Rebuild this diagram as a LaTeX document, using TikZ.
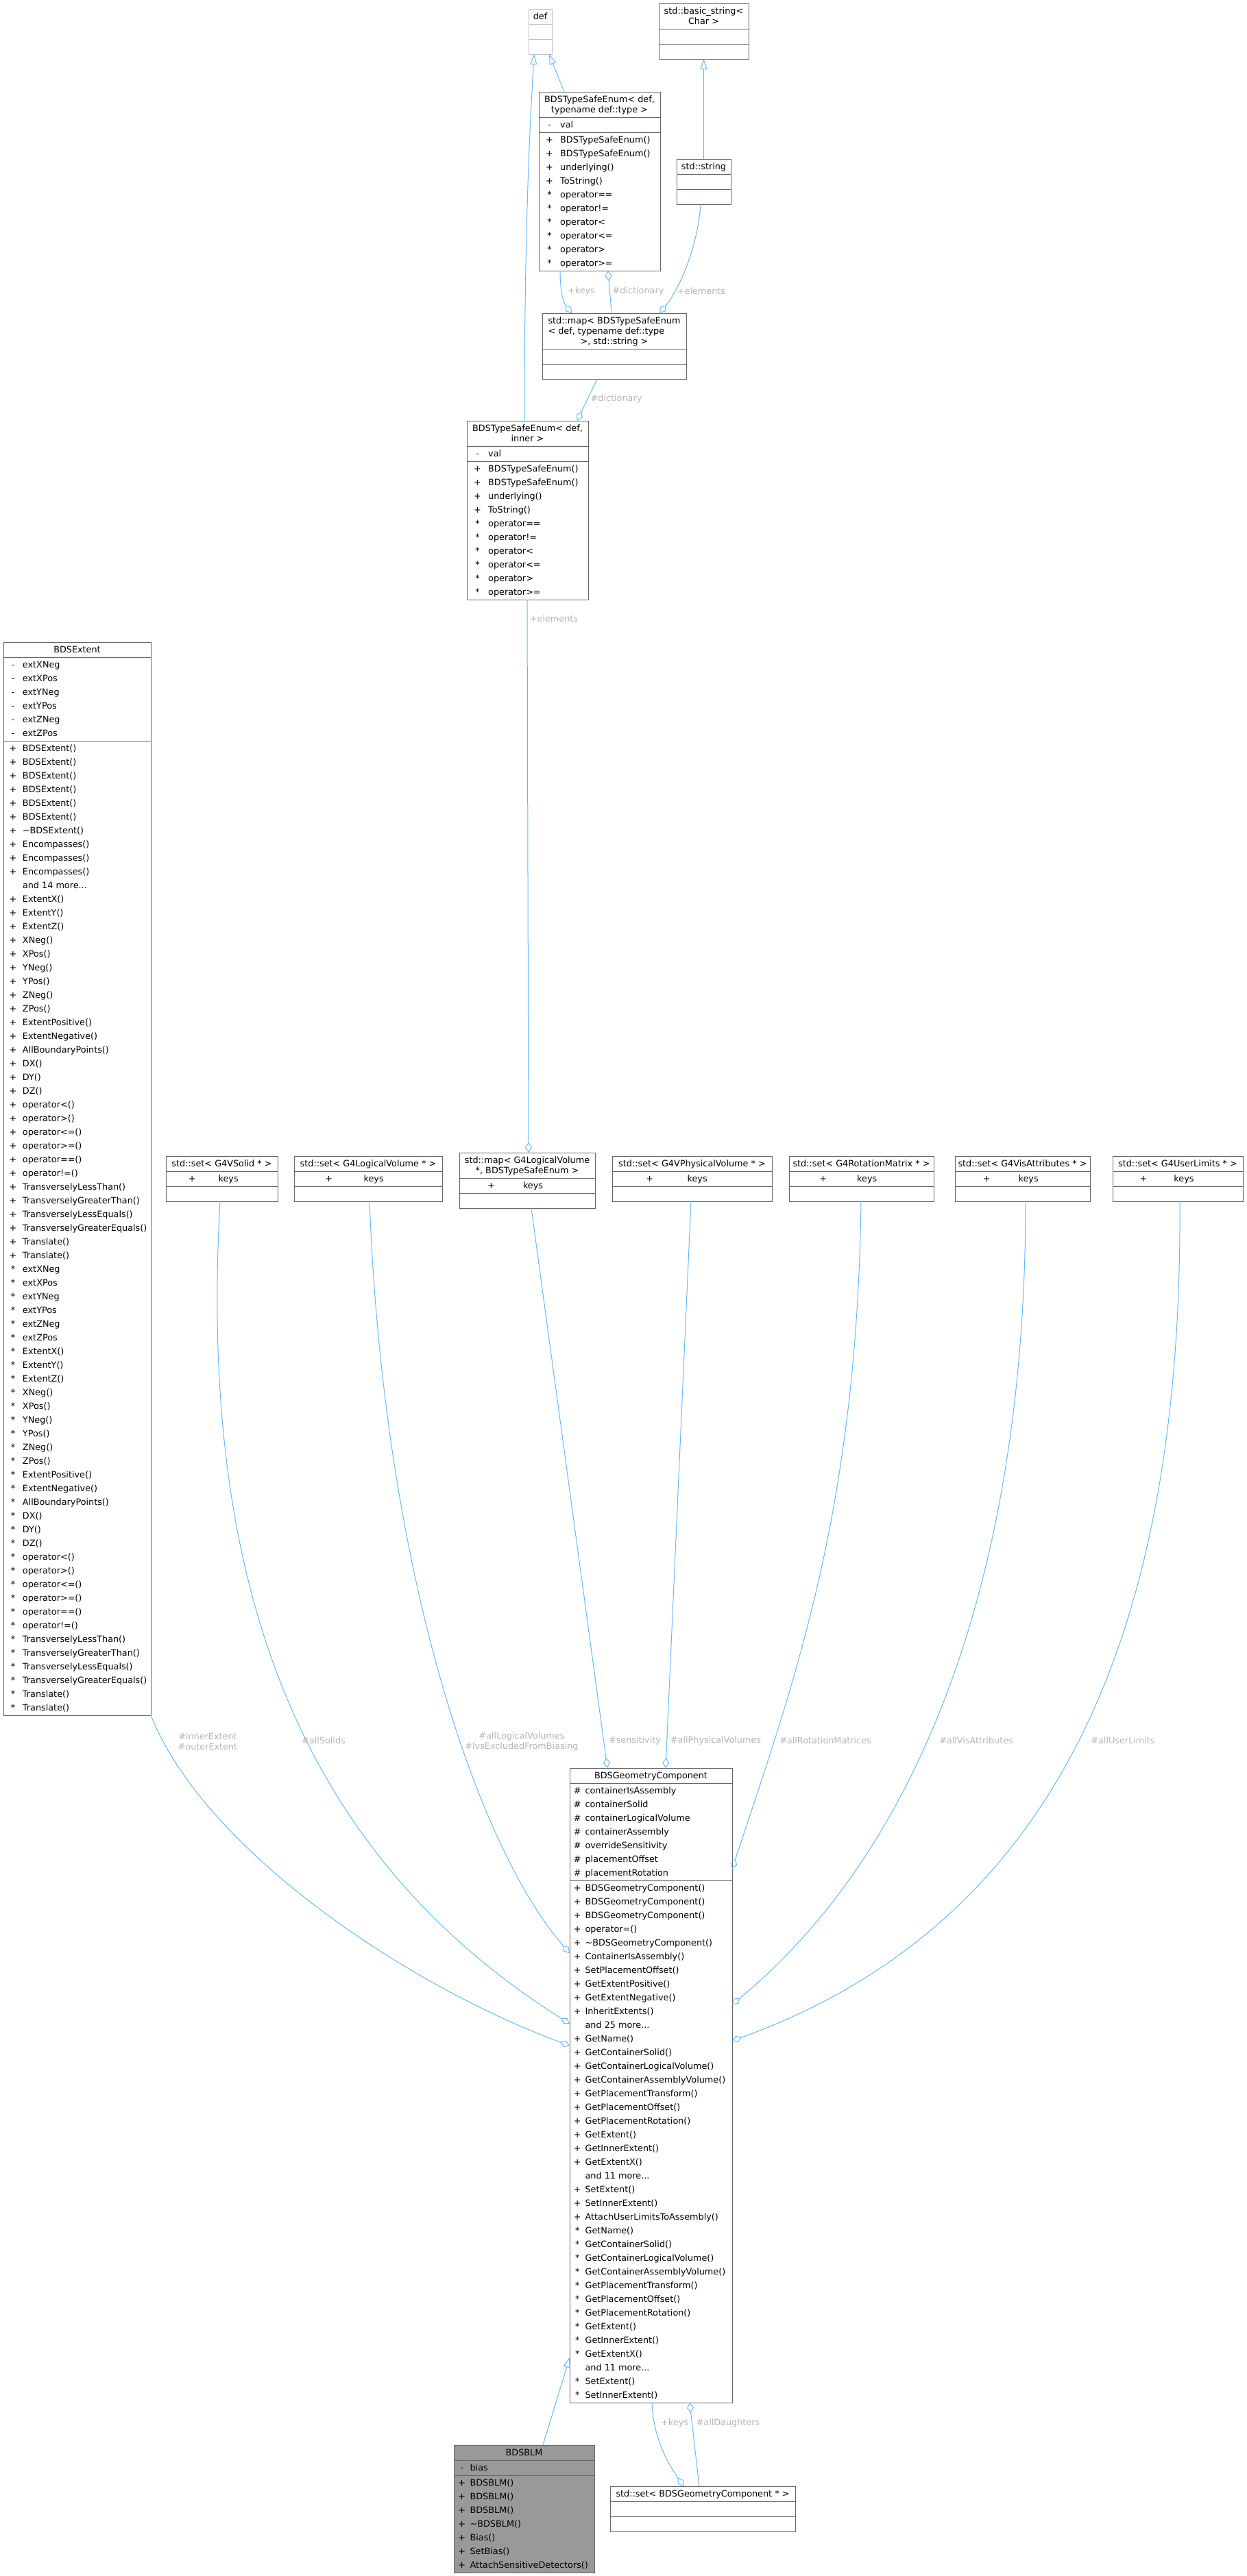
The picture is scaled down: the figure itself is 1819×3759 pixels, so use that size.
\documentclass[tikz,border=0pt]{standalone}
\usepackage{fontspec}
\setmainfont{DejaVu Sans}
\usepackage{array}
\usepackage{tikz}
\usetikzlibrary{arrows.meta, calc, shapes.multipart}
\definecolor{edgeblue}{HTML}{63B8FF}
\definecolor{framegray}{HTML}{666666}
\definecolor{nodocgray}{HTML}{BFBFBF}
\definecolor{labelgray}{HTML}{B4B4B4}
\definecolor{maingray}{HTML}{999999}
\newcolumntype{V}[1]{@{}>{\centering\arraybackslash}p{#1}@{}}
\tikzset{
  classbox/.style={rectangle split, rectangle split parts=3,
    rectangle split part align={center,left,left}, draw=framegray, fill=white,
    line width=0.5pt, inner xsep=0pt, inner ysep=0.25pt, outer sep=0pt,
    anchor=north west, font=\fontsize{6.4}{10}\selectfont},
  nodocbox/.style={classbox, draw=nodocgray},
  mainbox/.style={classbox, fill=maingray},
  inherit/.style={-{Triangle[open, length=7.5pt, width=5pt]}, line width=0.5pt, edgeblue},
  aggr/.style={-{Diamond[open, length=7.5pt, width=5pt]}, line width=0.5pt, edgeblue},
  edgelabel/.style={font=\fontsize{6.4}{7.5}\selectfont, text=labelgray, align=center, inner sep=0pt},
}

\begin{document}
\begin{tikzpicture}[x=0.5pt, y=-0.5pt]
  \useasboundingbox (0,0) rectangle (1819,3759);
  \node[nodocbox, minimum width=17pt] (def) at (771,13) {\strut def\nodepart{two}\strut\nodepart{three}\strut};
  \node[classbox, minimum width=65.5pt] (basic) at (961,5) {\begin{tabular}{@{}c@{}}std::basic\_string<\\[-2.5pt] Char >\end{tabular}\nodepart{two}\strut\nodepart{three}\strut};
  \node[classbox, minimum width=88.5pt] (tse1) at (786,134) {\begin{tabular}{@{}c@{}}BDSTypeSafeEnum< def,\\[-2.5pt] typename def::type >\end{tabular}
    \nodepart{two}\begin{tabular}{V{15.6pt}l@{}}-&val\end{tabular}
    \nodepart{three}\begin{tabular}{V{15.6pt}l@{}}
      +&BDSTypeSafeEnum()\\ +&BDSTypeSafeEnum()\\ +&underlying()\\ +&ToString()\\
      {*}&operator==\\ {*}&operator!=\\ {*}&operator<\\ {*}&operator<=\\ {*}&operator>\\ {*}&operator>=
    \end{tabular}};
  \node[classbox, minimum width=39.5pt] (str) at (987,232) {\strut std::string\nodepart{two}\strut\nodepart{three}\strut};
  \node[classbox, minimum width=105pt] (map1) at (791,457) {\begin{tabular}{@{}l@{}}std::map< BDSTypeSafeEnum\\[-2.5pt] < def, typename def::type\\[-2.5pt] \multicolumn{1}{@{}c@{}}{>, std::string >}\end{tabular}\nodepart{two}\strut\nodepart{three}\strut};
  \node[classbox, minimum width=88.5pt] (tse2) at (681,614) {\begin{tabular}{@{}c@{}}BDSTypeSafeEnum< def,\\[-2.5pt] inner >\end{tabular}
    \nodepart{two}\begin{tabular}{V{15.6pt}l@{}}-&val\end{tabular}
    \nodepart{three}\begin{tabular}{V{15.6pt}l@{}}
      +&BDSTypeSafeEnum()\\ +&BDSTypeSafeEnum()\\ +&underlying()\\ +&ToString()\\
      {*}&operator==\\ {*}&operator!=\\ {*}&operator<\\ {*}&operator<=\\ {*}&operator>\\ {*}&operator>=
    \end{tabular}};
  \node[classbox, minimum width=107.5pt] (extent) at (5,937) {\strut BDSExtent
    \nodepart{two}\begin{tabular}{V{14pt}l@{}}
      -&extXNeg\\ -&extXPos\\ -&extYNeg\\ -&extYPos\\ -&extZNeg\\ -&extZPos
    \end{tabular}
    \nodepart{three}\begin{tabular}{V{14pt}l@{}}
      +&BDSExtent()\\ +&BDSExtent()\\ +&BDSExtent()\\ +&BDSExtent()\\ +&BDSExtent()\\ +&BDSExtent()\\
      +&\textasciitilde BDSExtent()\\ +&Encompasses()\\ +&Encompasses()\\ +&Encompasses()\\
      &and 14 more...\\
      +&ExtentX()\\ +&ExtentY()\\ +&ExtentZ()\\ +&XNeg()\\ +&XPos()\\ +&YNeg()\\ +&YPos()\\ +&ZNeg()\\ +&ZPos()\\
      +&ExtentPositive()\\ +&ExtentNegative()\\ +&AllBoundaryPoints()\\ +&DX()\\ +&DY()\\ +&DZ()\\
      +&operator<()\\ +&operator>()\\ +&operator<=()\\ +&operator>=()\\ +&operator==()\\ +&operator!=()\\
      +&TransverselyLessThan()\\ +&TransverselyGreaterThan()\\ +&TransverselyLessEquals()\\ +&TransverselyGreaterEquals()\\
      +&Translate()\\ +&Translate()\\
      {*}&extXNeg\\ {*}&extXPos\\ {*}&extYNeg\\ {*}&extYPos\\ {*}&extZNeg\\ {*}&extZPos\\
      {*}&ExtentX()\\ {*}&ExtentY()\\ {*}&ExtentZ()\\ {*}&XNeg()\\ {*}&XPos()\\ {*}&YNeg()\\ {*}&YPos()\\ {*}&ZNeg()\\ {*}&ZPos()\\
      {*}&ExtentPositive()\\ {*}&ExtentNegative()\\ {*}&AllBoundaryPoints()\\ {*}&DX()\\ {*}&DY()\\ {*}&DZ()\\
      {*}&operator<()\\ {*}&operator>()\\ {*}&operator<=()\\ {*}&operator>=()\\ {*}&operator==()\\ {*}&operator!=()\\
      {*}&TransverselyLessThan()\\ {*}&TransverselyGreaterThan()\\ {*}&TransverselyLessEquals()\\ {*}&TransverselyGreaterEquals()\\
      {*}&Translate()\\ {*}&Translate()
    \end{tabular}};
  \node[classbox, minimum width=81.5pt] (setsolid) at (242,1687) {\strut std::set< G4VSolid * >\nodepart{two}\begin{tabular}{V{38.3pt}l@{}}+&keys\end{tabular}\nodepart{three}\strut};
  \node[classbox, minimum width=108pt] (setlv) at (429,1687) {\strut std::set< G4LogicalVolume * >\nodepart{two}\begin{tabular}{V{50.8pt}l@{}}+&keys\end{tabular}\nodepart{three}\strut};
  \node[classbox, minimum width=99pt] (maplv) at (670,1682) {\begin{tabular}{@{}c@{}}std::map< G4LogicalVolume\\[-2.5pt] *, BDSTypeSafeEnum >\end{tabular}\nodepart{two}\begin{tabular}{V{46.5pt}l@{}}+&keys\end{tabular}\nodepart{three}\strut};
  \node[classbox, minimum width=116.5pt] (setpv) at (893,1687) {\strut std::set< G4VPhysicalVolume * >\nodepart{two}\begin{tabular}{V{54.8pt}l@{}}+&keys\end{tabular}\nodepart{three}\strut};
  \node[classbox, minimum width=105.5pt] (setrot) at (1151,1687) {\strut std::set< G4RotationMatrix * >\nodepart{two}\begin{tabular}{V{49.6pt}l@{}}+&keys\end{tabular}\nodepart{three}\strut};
  \node[classbox, minimum width=98.5pt] (setvis) at (1393,1687) {\strut std::set< G4VisAttributes * >\nodepart{two}\begin{tabular}{V{46.3pt}l@{}}+&keys\end{tabular}\nodepart{three}\strut};
  \node[classbox, minimum width=95pt] (setul) at (1623,1687) {\strut std::set< G4UserLimits * >\nodepart{two}\begin{tabular}{V{44.7pt}l@{}}+&keys\end{tabular}\nodepart{three}\strut};
  \node[classbox, minimum width=118.5pt] (geo) at (831,2580) {\strut BDSGeometryComponent
    \nodepart{two}\begin{tabular}{V{11.3pt}l@{}}
      \#&containerIsAssembly\\ \#&containerSolid\\ \#&containerLogicalVolume\\ \#&containerAssembly\\
      \#&overrideSensitivity\\ \#&placementOffset\\ \#&placementRotation
    \end{tabular}
    \nodepart{three}\begin{tabular}{V{11.3pt}l@{}}
      +&BDSGeometryComponent()\\ +&BDSGeometryComponent()\\ +&BDSGeometryComponent()\\ +&operator=()\\
      +&\textasciitilde BDSGeometryComponent()\\ +&ContainerIsAssembly()\\ +&SetPlacementOffset()\\
      +&GetExtentPositive()\\ +&GetExtentNegative()\\ +&InheritExtents()\\
      &and 25 more...\\
      +&GetName()\\ +&GetContainerSolid()\\ +&GetContainerLogicalVolume()\\ +&GetContainerAssemblyVolume()\\
      +&GetPlacementTransform()\\ +&GetPlacementOffset()\\ +&GetPlacementRotation()\\ +&GetExtent()\\
      +&GetInnerExtent()\\ +&GetExtentX()\\
      &and 11 more...\\
      +&SetExtent()\\ +&SetInnerExtent()\\ +&AttachUserLimitsToAssembly()\\
      {*}&GetName()\\ {*}&GetContainerSolid()\\ {*}&GetContainerLogicalVolume()\\ {*}&GetContainerAssemblyVolume()\\
      {*}&GetPlacementTransform()\\ {*}&GetPlacementOffset()\\ {*}&GetPlacementRotation()\\ {*}&GetExtent()\\
      {*}&GetInnerExtent()\\ {*}&GetExtentX()\\
      &and 11 more...\\
      {*}&SetExtent()\\ {*}&SetInnerExtent()
    \end{tabular}};
  \node[mainbox, minimum width=102.5pt] (blm) at (662,3568) {\strut BDSBLM
    \nodepart{two}\begin{tabular}{V{11.8pt}l@{}}-&bias\end{tabular}
    \nodepart{three}\begin{tabular}{V{11.8pt}l@{}}
      +&BDSBLM()\\ +&BDSBLM()\\ +&BDSBLM()\\ +&\textasciitilde BDSBLM()\\ +&Bias()\\ +&SetBias()\\ +&AttachSensitiveDetectors()
    \end{tabular}};
  \node[classbox, minimum width=135pt] (setgeo) at (890,3628) {\strut std::set< BDSGeometryComponent * >\nodepart{two}\strut\nodepart{three}\strut};

  \draw[inherit] ($(tse1.north west)+(37,0)$) -- ($(def.south west)+(30,0)$);
  \draw[inherit] ($(tse2.north west)+(84,0)$) .. controls +(0,-300) and +(-5,90) .. ($(def.south west)+(8,0)$);
  \draw[inherit] (str.north) -- (basic.south);
  \draw[aggr] ($(tse1.south west)+(31,0)$) .. controls +(0,30) and +(-12,-15) .. ($(map1.north west)+(43,0)$);
  \draw[aggr] ($(map1.north west)+(101,0)$) -- ($(tse1.south west)+(101,0)$);
  \draw[aggr] ($(str.south west)+(35,0)$) .. controls +(-5,70) and +(25,-30) .. ($(map1.north west)+(171,0)$);
  \draw[aggr] ($(map1.south west)+(80,0)$) -- ($(tse2.north west)+(161,0)$);
  \draw[aggr] ($(tse2.south west)+(88,0)$) -- ($(maplv.north west)+(101,0)$);
  \draw[aggr] ($(setsolid.south west)+(79,0)$) .. controls +(-31,550) and +(-401,-253) .. ($(geo.north west)+(0,373)$);
  \draw[aggr] ($(setlv.south west)+(110,0)$) .. controls +(21,550) and +(-131,-150) .. ($(geo.north west)+(0,270)$);
  \draw[aggr] ($(maplv.south west)+(105,0)$) -- ($(geo.north west)+(55,0)$);
  \draw[aggr] ($(setpv.south west)+(115,0)$) -- ($(geo.north west)+(140,0)$);
  \draw[aggr] ($(setrot.south west)+(105,0)$) .. controls +(-6,450) and +(92,-277) .. ($(geo.north east)+(0,147)$);
  \draw[aggr] ($(setvis.south west)+(103,0)$) .. controls +(0,550) and +(272,-225) .. ($(geo.north east)+(0,345)$);
  \draw[aggr] ($(setul.south west)+(98,0)$) .. controls +(4,600) and +(492,-178) .. ($(geo.north east)+(0,398)$);
  \draw[aggr] (extent.south east) .. controls +(80,200) and +(-231,-85) .. ($(geo.north west)+(0,405)$);
  \draw[inherit] ($(blm.north west)+(130,0)$) -- ($(geo.south west)+(0,-66)$);
  \draw[aggr] ($(geo.south west)+(120,0)$) .. controls +(2,55) and +(-20,-30) .. ($(setgeo.north west)+(107,0)$);
  \draw[aggr] ($(setgeo.north west)+(130,0)$) -- ($(geo.south west)+(175,0)$);

  \node[edgelabel] (lkeys1) at (848,425) {+keys};
  \node[edgelabel] (ldict1) at (931,425) {\#dictionary};
  \node[edgelabel] (lelem1) at (1023,425) {+elements};
  \node[edgelabel] (ldict2) at (899,582) {\#dictionary};
  \node[edgelabel] (lelem2) at (808,903) {+elements};
  \node[edgelabel] (lextent) at (303,2541) {\#innerExtent\\\#outerExtent};
  \node[edgelabel] (lsolids) at (472,2540) {\#allSolids};
  \node[edgelabel] (llvs) at (761,2541) {\#allLogicalVolumes\\\#lvsExcludedFromBiasing};
  \node[edgelabel] (lsens) at (926,2540) {\#sensitivity};
  \node[edgelabel] (lpvs) at (1044,2540) {\#allPhysicalVolumes};
  \node[edgelabel] (lrot) at (1204,2540) {\#allRotationMatrices};
  \node[edgelabel] (lvis) at (1424,2540) {\#allVisAttributes};
  \node[edgelabel] (lul) at (1638,2540) {\#allUserLimits};
  \node[edgelabel] (lkeys2) at (984,3536) {+keys};
  \node[edgelabel] (ldaught) at (1062,3536) {\#allDaughters};
\end{tikzpicture}
\end{document}
